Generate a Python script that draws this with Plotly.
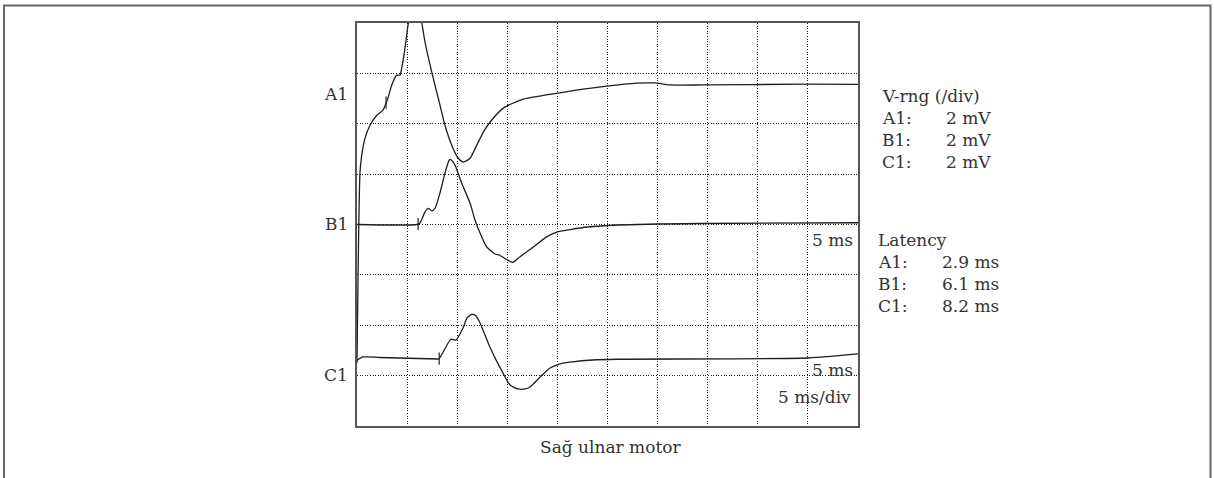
import numpy as np
import plotly.graph_objects as go

# ---------------- data (time in ms, amplitude in mV relative to trace baseline) ----------------
A1_T = [0.0, 0.3, 0.47, 0.8, 1.3, 1.97, 2.59, 3.09, 3.46, 3.96, 4.29, 4.46, 4.79, 5.09, 5.49, 5.84,
        6.19, 6.46, 6.79, 7.46, 8.11, 8.78, 9.45, 10.11, 10.61, 11.28, 11.95, 12.61, 13.27, 14.6,
        16.6, 19.93, 24.92, 27.91, 29.74, 31.24, 34.53, 44.51, 50.0]
A1_MV = [-11.0, -3.42, -2.75, -2.07, -1.56, -1.16, -0.96, -0.48, 0.03, 0.43, 0.43, 0.71, 1.5, 2.41,
         3.21, 3.72, 3.21, 2.53, 1.74, 0.55, -0.48, -1.56, -2.35, -2.87, -3.02, -2.87, -2.35, -1.83,
         -1.44, -0.88, -0.52, -0.29, -0.01, 0.11, 0.12, 0.04, 0.04, 0.07, 0.06]

B1_T = [0.0, 5.99, 6.29, 6.79, 7.12, 7.46, 7.78, 8.28, 8.78, 9.21, 9.35, 9.78, 10.45, 11.28, 11.78,
        12.28, 12.94, 13.77, 14.2, 14.77, 15.54, 16.27, 17.6, 18.93, 19.93, 21.3, 23.0, 26.0, 34.23, 50.0]
B1_MV = [0.0, 0.0, 0.06, 0.5, 0.64, 0.54, 0.64, 1.25, 2.04, 2.56, 2.58, 2.36, 1.64, 0.85, 0.17,
         -0.34, -0.89, -1.17, -1.21, -1.35, -1.5, -1.28, -0.89, -0.49, -0.3, -0.2, -0.1, -0.02, 0.04, 0.07]

C1_T = [0.0, 0.6, 2.3, 8.08, 8.18, 9.28, 9.48, 9.88, 10.58, 10.98, 11.48, 11.88, 12.28, 13.27, 14.57,
        15.27, 16.07, 16.77, 17.27, 18.26, 19.26, 20.26, 21.5, 23.5, 26.0, 45.0, 50.0]
C1_MV = [0.0, 0.14, 0.12, 0.06, 0.06, 0.81, 0.85, 0.81, 1.29, 1.69, 1.84, 1.77, 1.49, 0.53, -0.5,
         -0.97, -1.13, -1.13, -1.05, -0.66, -0.3, -0.13, -0.05, 0.02, 0.05, 0.1, 0.26]

TRACE_NAMES = ["A1", "B1", "C1"]
BASELINES = [13.5, 8.0, 2.6]          # display baseline of each trace (mV on axis)
LATENCY_MS = [2.9, 6.1, 8.2]
VRANGE_MV = [2, 2, 2]
TIMEBASE = 5                          # ms/div
SENS = 2                              # mV/div
TITLE = "Sağ ulnar motor"

# ---------------- figure ----------------
W, H = 1214, 478
L, R, T, B = 357, 858, 23, 426        # plot area in pixels

def px(x):
    return (x - L) / (R - L)

def py(y):
    return (B - y) / (B - T)

FONT = "DejaVu Serif"
TXT = "#333333"
LINE = "#1e1e1e"

fig = go.Figure()
traces = [(A1_T, A1_MV), (B1_T, B1_MV), (C1_T, C1_MV)]
for (t, mv), base, name, lat in zip(traces, BASELINES, TRACE_NAMES, LATENCY_MS):
    y = np.array(mv) + base
    fig.add_trace(go.Scatter(x=t, y=y, mode="lines", name=name,
                             line=dict(color=LINE, width=1.3, shape="spline", smoothing=0.6),
                             showlegend=False, hoverinfo="skip"))
    yl = float(np.interp(lat, t, y))
    fig.add_trace(go.Scatter(x=[lat, lat], y=[yl - 0.24, yl + 0.24], mode="lines",
                             line=dict(color=LINE, width=1.2), showlegend=False, hoverinfo="skip"))

fig.update_xaxes(range=[0, 10 * TIMEBASE], dtick=TIMEBASE, showticklabels=False, ticks="",
                 showgrid=True, gridcolor="#222222", gridwidth=1, griddash="1px,1.6px",
                 zeroline=False, showline=True, linecolor="#555555", linewidth=1.5, mirror=True)
fig.update_yaxes(range=[0, 8 * SENS], dtick=SENS, showticklabels=False, ticks="",
                 showgrid=True, gridcolor="#222222", gridwidth=1, griddash="1px,1.6px",
                 zeroline=False, showline=True, linecolor="#555555", linewidth=1.5, mirror=True)

ann = []
def add(text, x, y, xa="left", size=17):
    ann.append(dict(text=text, x=px(x), y=py(y), xref="paper", yref="paper", xanchor=xa,
                    yanchor="middle", showarrow=False, font=dict(family=FONT, size=size, color=TXT)))

# trace labels
for name, yy in zip(TRACE_NAMES, [93, 223, 374]):
    add(name, 350, yy + 1, xa="right")

# V-range block
add("V-rng (/div)", 880, 96)
for i, (name, v) in enumerate(zip(TRACE_NAMES, VRANGE_MV)):
    add(f"{name}:", 880, 118 + 22 * i)
    add(f"{v} mV", 944, 118 + 22 * i)

# Latency block
add("Latency", 876, 240)
for i, (name, v) in enumerate(zip(TRACE_NAMES, LATENCY_MS)):
    add(f"{name}:", 876, 262 + 22 * i)
    add(f"{v} ms", 940, 262 + 22 * i)

# in-box labels
add(f"{TIMEBASE} ms", 855, 240, xa="right")
add(f"{TIMEBASE} ms", 855, 370, xa="right")
add(f"{TIMEBASE} ms/div", 853, 397, xa="right")
add(TITLE, 610, 447, xa="center")

shapes = [dict(type="rect", xref="paper", yref="paper", x0=px(4), x1=px(1210.5), y0=py(5.5), y1=py(520),
               line=dict(color="#666666", width=2), fillcolor="rgba(0,0,0,0)", layer="below")]

fig.update_layout(width=W, height=H, margin=dict(l=L, r=W - R, t=T, b=H - B),
                  paper_bgcolor="white", plot_bgcolor="white", annotations=ann, shapes=shapes,
                  font=dict(family=FONT, color=TXT))

fig.write_html("out.html", config={"displayModeBar": False},
               post_script="document.body.style.margin='0';document.body.style.overflow='hidden';")
